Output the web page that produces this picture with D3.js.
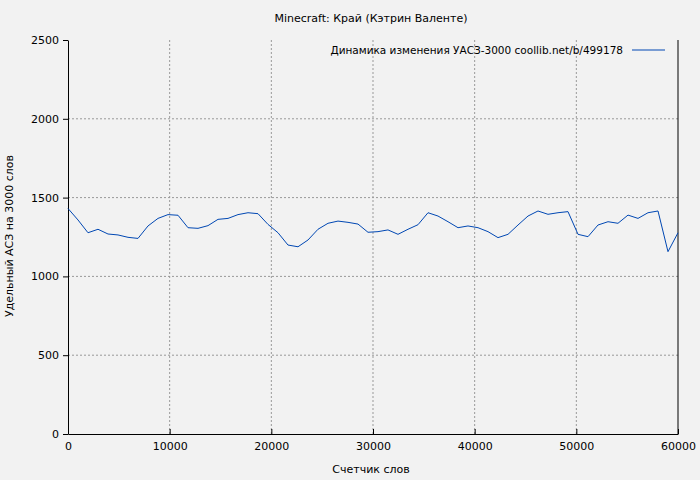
<!DOCTYPE html>
<html><head><meta charset="utf-8">
<script src="https://cdnjs.cloudflare.com/ajax/libs/d3/7.8.5/d3.min.js"></script>
<style>body{margin:0;background:#f2f2f2}text{font-family:"DejaVu Sans",sans-serif;font-size:11px;fill:#000}</style>
</head><body><div id="chart"></div>
<script>
const words = [0,984,1967,2951,3934,4918,5902,6885,7869,8852,9836,10820,11803,12787,13770,14754,15738,16721,17705,18689,19672,20656,21639,22623,23607,24590,25574,26557,27541,28525,29508,30492,31475,32459,33443,34426,35410,36393,37377,38361,39344,40328,41311,42295,43279,44262,45246,46229,47213,48197,49180,50164,51148,52131,53115,54098,55082,56066,57049,58033,59016,60000];
const values = [1431,1358,1277,1299,1269,1263,1248,1241,1320,1368,1392,1388,1309,1305,1322,1362,1368,1392,1404,1398,1330,1277,1199,1188,1231,1299,1337,1351,1343,1332,1280,1284,1295,1267,1299,1328,1404,1383,1347,1309,1320,1309,1284,1246,1267,1326,1383,1415,1394,1404,1411,1267,1252,1326,1347,1337,1389,1368,1404,1415,1157,1277];
const xTicks = [0,10000,20000,30000,40000,50000,60000];
const yTicks = [0,500,1000,1500,2000,2500];

const margin = {left: 68, right: 22, top: 40, bottom: 46};
const width = 700 - margin.left - margin.right;
const height = 480 - margin.top - margin.bottom;

const svg = d3.select("#chart").append("svg").attr("width", 700).attr("height", 480);
svg.append("rect").attr("width", 700).attr("height", 480).attr("fill", "#f2f2f2");
const g = svg.append("g").attr("transform", "translate(" + margin.left + "," + margin.top + ")");

const x = d3.scaleLinear().domain([0, 60000]).range([0, width]);
const y = d3.scaleLinear().domain([0, 2500]).range([height, 0]);

// grid
g.selectAll(".gx").data(xTicks.slice(1, -1)).enter().append("line")
    .attr("x1", d => x(d)).attr("x2", d => x(d)).attr("y1", 0).attr("y2", height)
    .attr("stroke", "#999").attr("stroke-dasharray", "2,2");
g.selectAll(".gy").data(yTicks.slice(1, -1)).enter().append("line")
    .attr("y1", d => y(d)).attr("y2", d => y(d)).attr("x1", 0).attr("x2", width)
    .attr("stroke", "#999").attr("stroke-dasharray", "2,2");

// axes
const xAxis = g.append("g").attr("transform", "translate(0," + height + ")")
    .call(d3.axisBottom(x).tickValues(xTicks).tickFormat(d3.format("d")).tickSizeInner(-5).tickSizeOuter(0).tickPadding(8));
const yAxis = g.append("g")
    .call(d3.axisLeft(y).tickValues(yTicks).tickFormat(d3.format("d")).tickSizeInner(5).tickSizeOuter(0).tickPadding(4));
[xAxis, yAxis].forEach(a => {
    a.selectAll("text").style("font-family", "DejaVu Sans").style("font-size", "11px");
    a.select(".domain").attr("stroke", "#000");
});
g.append("line").attr("x1", width).attr("x2", width).attr("y1", 0).attr("y2", height).attr("stroke", "#000");

// line
const line = d3.line().x((d, i) => x(words[i])).y(d => y(d));
g.append("path").datum(values).attr("d", line).attr("fill", "none").attr("stroke", "#0047b3").attr("stroke-width", 1);

// legend
svg.append("text").attr("x", 623).attr("y", 54).attr("text-anchor", "end").style("font-size", "10.5px")
    .text("Динамика изменения УАСЗ-3000  coollib.net/b/499178");
svg.append("line").attr("x1", 632).attr("x2", 665).attr("y1", 50).attr("y2", 50).attr("stroke", "#0047b3");

// titles
svg.append("text").attr("x", 371).attr("y", 22).attr("text-anchor", "middle").text("Minecraft: Край (Кэтрин Валенте)");
svg.append("text").attr("x", 371).attr("y", 473).attr("text-anchor", "middle").text("Счетчик слов");
svg.append("text").attr("transform", "translate(13,236) rotate(-90)").attr("text-anchor", "middle").text("Удельный АСЗ на 3000 слов");
</script></body></html>
